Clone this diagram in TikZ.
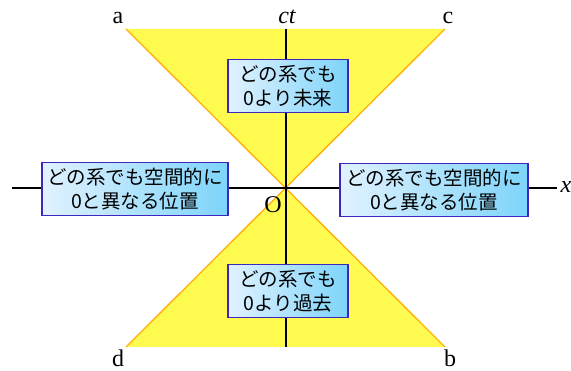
\documentclass[tikz,border=0pt]{standalone}
\usepackage{fontspec}
\setmainfont{Liberation Serif}
\newfontfamily\jpfont{Noto Sans CJK JP}
\usetikzlibrary{positioning}
\definecolor{coneyellow}{RGB}{255,250,80}
\definecolor{coneedge}{RGB}{255,175,10}
\definecolor{boxborder}{RGB}{60,40,190}
\definecolor{boxleft}{RGB}{225,242,255}
\definecolor{boxright}{RGB}{125,212,250}
\tikzset{
  region/.style={draw=boxborder, line width=1.5pt, left color=boxleft, right color=boxright,
    font=\jpfont\fontsize{19.5}{24}\selectfont, align=center, inner sep=0pt,
    minimum height=53pt},
  axislabel/.style={font=\fontsize{24}{24}\selectfont, inner sep=0pt}
}

\begin{document}
\begin{tikzpicture}[x=1pt,y=-1pt]
  \useasboundingbox (0,0) rectangle (571,371);
  \coordinate (O) at (286,188);
  \foreach \n/\px/\py in {a/126/29, c/445/29, d/126/347, b/445/347,
                          xl/12/188, xr/557/188, tt/286/29, tb/286/347} {
    \coordinate (\n) at (\px,\py);
  }
  % light cone
  \fill[coneyellow] (a) -- (c) -- (O) -- cycle;
  \fill[coneyellow] (d) -- (b) -- (O) -- cycle;
  \draw[coneedge, line width=1.3pt] (a) -- (b);
  \draw[coneedge, line width=1.3pt] (c) -- (d);
  % axes
  \draw[line width=1.5pt] (xl) -- (xr);
  \draw[line width=1.5pt] (tt) -- (tb);
  % labels
  \node[axislabel] (la) at (118,18) {a};
  \node[axislabel] (lc) at (448,18) {c};
  \node[axislabel] (ld) at (118,358) {d};
  \node[axislabel] (lb) at (450,358) {b};
  \node[axislabel] (lct) at (287,17) {\itshape ct};
  \node[axislabel] (lx) at (566,187) {\itshape x};
  \node[axislabel] (lO) at (273,205) {O};
  % regions
  \node[region, minimum width=120pt] (future) at (288,86) {どの系でも\\0より未来};
  \node[region, minimum width=120pt] (past) at (288,291) {どの系でも\\0より過去};
  \node[region, minimum width=186pt] (elsel) at (135,189) {どの系でも空間的に\\0と異なる位置};
  \node[region, minimum width=188pt] (elser) at (434,190) {どの系でも空間的に\\0と異なる位置};
\end{tikzpicture}
\end{document}
